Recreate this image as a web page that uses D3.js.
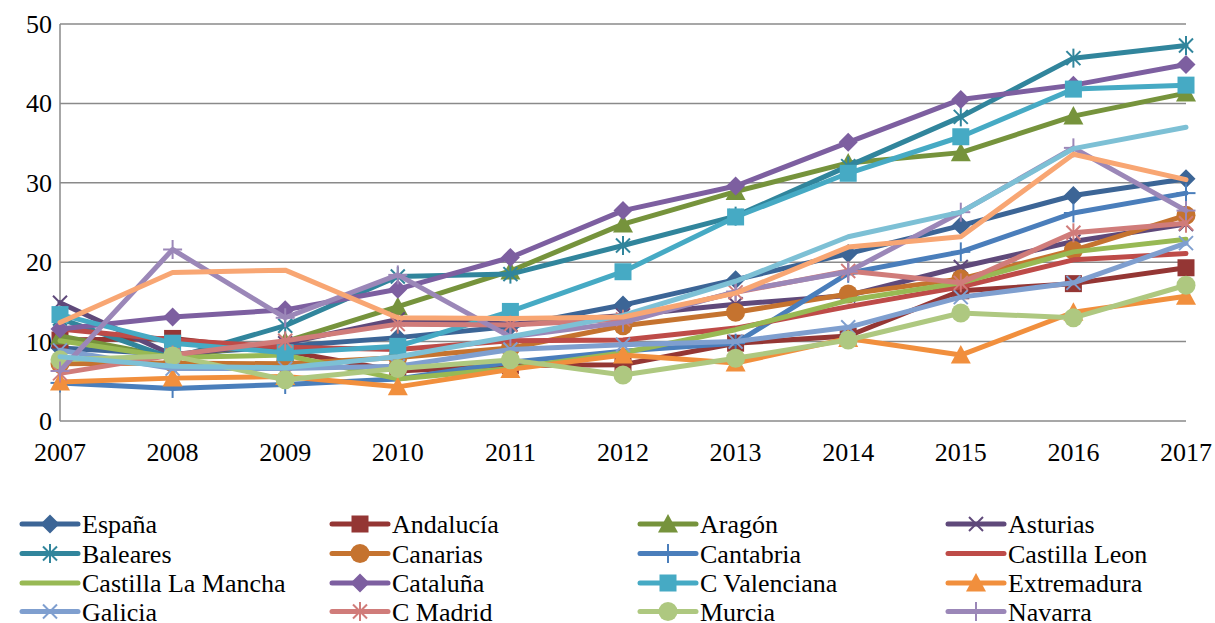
<!DOCTYPE html>
<html>
<head>
<meta charset="utf-8">
<script src="https://cdn.jsdelivr.net/npm/d3@7"></script>
<style>
  .lbl { font: 26px "Times New Roman", "Liberation Serif", Tinos, serif !important; }
</style>
</head>
<body style="margin:0">
<svg id="chart" width="1215" height="623" style="display:block"></svg>
<script>
// ── DATA ──────────────────────────────────────────────────────
const years  = [2007, 2008, 2009, 2010, 2011, 2012, 2013, 2014, 2015, 2016, 2017];
const yTicks = [0, 10, 20, 30, 40, 50];

const espana           = [9.2, 8.4, 9.4, 10.5, 11.9, 14.6, 17.8, 21.1, 24.6, 28.4, 30.5];
const andalucia        = [10.2, 10.4, 8.8, 6.3, 7.0, 7.1, 9.8, 10.7, 16.4, 17.3, 19.3];
const aragon           = [10.7, 8.0, 10.0, 14.4, 18.9, 24.8, 28.9, 32.5, 33.8, 38.4, 41.3];
const asturias         = [14.9, 8.3, 9.8, 12.8, 12.2, 13.3, 14.7, 15.8, 19.4, 22.6, 24.8];
const baleares         = [12.9, 7.9, 12.0, 18.2, 18.5, 22.1, 25.8, 32.1, 38.3, 45.7, 47.3];
const canarias         = [7.2, 7.3, 7.2, 8.0, 9.2, 12.0, 13.7, 16.0, 17.9, 21.5, 25.9];
const cantabria        = [4.8, 4.1, 4.6, 5.3, 7.4, 8.8, 9.8, 18.6, 21.3, 26.2, 28.7];
const castillaLeon     = [11.6, 10.2, 9.3, 9.0, 10.1, 10.2, 11.7, 14.4, 16.9, 20.3, 21.1];
const castillaLaMancha = [10.1, 8.0, 8.3, 5.3, 6.6, 8.6, 11.5, 15.2, 17.4, 21.3, 22.9];
const cataluna         = [11.6, 13.1, 14.0, 16.6, 20.6, 26.5, 29.6, 35.1, 40.5, 42.3, 44.9];
const cValenciana      = [13.4, 9.8, 8.6, 9.4, 13.8, 18.8, 25.7, 31.2, 35.8, 41.8, 42.3];
const extremadura      = [4.9, 5.4, 5.6, 4.3, 6.5, 8.3, 7.3, 10.4, 8.3, 13.7, 15.7];
const galicia          = [8.9, 6.6, 6.6, 6.9, 9.0, 9.6, 10.0, 11.8, 15.6, 17.4, 22.4];
const cMadrid          = [6.0, 8.3, 10.1, 12.2, 12.1, 12.8, 16.2, 18.9, 17.4, 23.7, 24.9];
const murcia           = [7.7, 8.2, 5.2, 6.6, 7.7, 5.8, 7.9, 10.2, 13.6, 13.0, 17.1];
const navarra          = [6.3, 21.6, 13.0, 18.4, 10.6, 12.4, 16.3, 18.8, 26.3, 34.4, 26.5];
const paisVasco        = [8.1, 6.9, 6.7, 8.1, 10.6, 13.3, 17.6, 23.2, 26.3, 34.3, 37.0];
const laRioja          = [12.4, 18.7, 19.0, 13.0, 12.9, 13.1, 16.1, 21.9, 23.2, 33.6, 30.4];

const regionNames = [
  "España", "Andalucía", "Aragón", "Asturias", "Baleares", "Canarias",
  "Cantabria", "Castilla Leon", "Castilla La Mancha", "Cataluña", "C Valenciana",
  "Extremadura", "Galicia", "C Madrid", "Murcia", "Navarra", "País Vasco", "La Rioja"
];
const regionValues = [
  espana, andalucia, aragon, asturias, baleares, canarias,
  cantabria, castillaLeon, castillaLaMancha, cataluna, cValenciana,
  extremadura, galicia, cMadrid, murcia, navarra, paisVasco, laRioja
];

// only the first 16 fit in the legend
const legendCount = 16;

// ── STYLES ────────────────────────────────────────────────────
const seriesStyles = [
  { color: "#3C6596", marker: "diamond" },
  { color: "#943634", marker: "square" },
  { color: "#76933C", marker: "triangle" },
  { color: "#5F497A", marker: "x" },
  { color: "#31859C", marker: "star" },
  { color: "#C5732F", marker: "circle" },
  { color: "#4A7EBB", marker: "plus" },
  { color: "#BE4B48", marker: "none" },
  { color: "#98B954", marker: "none" },
  { color: "#7D5FA0", marker: "diamond" },
  { color: "#46AAC4", marker: "square" },
  { color: "#F18F3D", marker: "triangle" },
  { color: "#7F9FCF", marker: "x" },
  { color: "#D07C7A", marker: "star" },
  { color: "#AEC880", marker: "circle" },
  { color: "#9B87B8", marker: "plus" },
  { color: "#7DC0D5", marker: "none" },
  { color: "#F8A673", marker: "none" }
];

const series = regionNames.map((name, i) => ({
  name,
  values: regionValues[i],
  ...seriesStyles[i]
}));

// ── CHART SETUP ───────────────────────────────────────────────
const svg = d3.select("#chart");

const xScale = d3.scalePoint()
  .domain(years)
  .range([60, 1186]);

const yScale = d3.scaleLinear()
  .domain([0, 50])
  .range([421, 24]);

const gridColor = "#8A8A8A";

// gridlines
svg.append("g")
  .selectAll("line")
  .data(yTicks.filter(t => t > 0))
  .join("line")
    .attr("x1", xScale(years[0]))
    .attr("x2", xScale(years[years.length - 1]))
    .attr("y1", d => yScale(d))
    .attr("y2", d => yScale(d))
    .attr("stroke", gridColor)
    .attr("stroke-width", 1.5);

// axis lines
svg.append("line")
  .attr("x1", xScale(years[0])).attr("x2", xScale(years[0]))
  .attr("y1", yScale(0)).attr("y2", yScale(50))
  .attr("stroke", gridColor).attr("stroke-width", 1.5);

svg.append("line")
  .attr("x1", xScale(years[0])).attr("x2", xScale(years[years.length - 1]))
  .attr("y1", yScale(0)).attr("y2", yScale(0))
  .attr("stroke", gridColor).attr("stroke-width", 1.5);

// y tick labels
svg.append("g")
  .selectAll("text")
  .data(yTicks)
  .join("text")
    .attr("class", "lbl")
    .attr("x", 52)
    .attr("y", d => yScale(d) + 9)
    .attr("text-anchor", "end")
    .style("font-family", () => `"Times New Roman"`)
    .style("font-size", "26px")
    .attr("fill", "#000")
    .text(d => d);

// x tick labels
svg.append("g")
  .selectAll("text")
  .data(years)
  .join("text")
    .attr("class", "lbl")
    .attr("x", d => xScale(d))
    .attr("y", 461)
    .attr("text-anchor", "middle")
    .style("font-family", () => `"Times New Roman"`)
    .style("font-size", "26px")
    .attr("fill", "#000")
    .text(d => d);

// ── MARKERS ───────────────────────────────────────────────────
const drawMarker = (g, type, color) => {
  if (type === "diamond") {
    g.append("path").attr("d", "M0,-9.5L9.5,0L0,9.5L-9.5,0Z").attr("fill", color);
  } else if (type === "square") {
    g.append("rect").attr("x", -8.5).attr("y", -8.5).attr("width", 17).attr("height", 17).attr("fill", color);
  } else if (type === "triangle") {
    g.append("path").attr("d", "M0,-10L10,8.5L-10,8.5Z").attr("fill", color);
  } else if (type === "circle") {
    g.append("circle").attr("r", 9.5).attr("fill", color);
  } else {
    const segs = [];
    if (type === "x" || type === "star") segs.push([-7, -7, 7, 7], [-7, 7, 7, -7]);
    if (type === "star") segs.push([0, -9.5, 0, 9.5]);
    if (type === "plus") segs.push([0, -9.5, 0, 9.5], [-9.5, 0, 9.5, 0]);
    segs.forEach(s => {
      g.append("line")
        .attr("x1", s[0]).attr("y1", s[1]).attr("x2", s[2]).attr("y2", s[3])
        .attr("stroke", color).attr("stroke-width", 2);
    });
  }
};

// ── LINES ─────────────────────────────────────────────────────
const lineGen = d3.line()
  .x((d, i) => xScale(years[i]))
  .y(d => yScale(d));

const seriesG = svg.append("g")
  .selectAll("g")
  .data(series)
  .join("g");

seriesG.append("path")
  .attr("d", d => lineGen(d.values))
  .attr("fill", "none")
  .attr("stroke", d => d.color)
  .attr("stroke-width", 5)
  .attr("stroke-linejoin", "round")
  .attr("stroke-linecap", "round");

seriesG.each(function (s) {
  if (s.marker === "none") return;
  const g = d3.select(this);
  s.values.forEach((v, i) => {
    const m = g.append("g")
      .attr("transform", `translate(${xScale(years[i])}, ${yScale(v)})`);
    drawMarker(m, s.marker, s.color);
  });
});

// ── LEGEND ────────────────────────────────────────────────────
const legendCols = [22, 332, 640, 948];
const legendRows = [524, 553.5, 583, 611.5];

const legend = svg.append("g")
  .selectAll("g")
  .data(series.slice(0, legendCount))
  .join("g")
    .attr("transform", (d, i) => `translate(${legendCols[i % 4]}, ${legendRows[Math.floor(i / 4)]})`);

legend.append("line")
  .attr("x1", 0).attr("x2", 56)
  .attr("y1", 0).attr("y2", 0)
  .attr("stroke", d => d.color)
  .attr("stroke-width", 5)
  .attr("stroke-linecap", "round");

legend.each(function (d) {
  if (d.marker === "none") return;
  const m = d3.select(this).append("g").attr("transform", "translate(28, 0)");
  drawMarker(m, d.marker, d.color);
});

legend.append("text")
  .attr("class", "lbl")
  .attr("x", 60)
  .attr("y", 9)
  .style("font-family", () => `"Times New Roman"`)
  .style("font-size", "26px")
  .attr("fill", "#000")
  .text(d => d.name);
</script>
</body>
</html>
